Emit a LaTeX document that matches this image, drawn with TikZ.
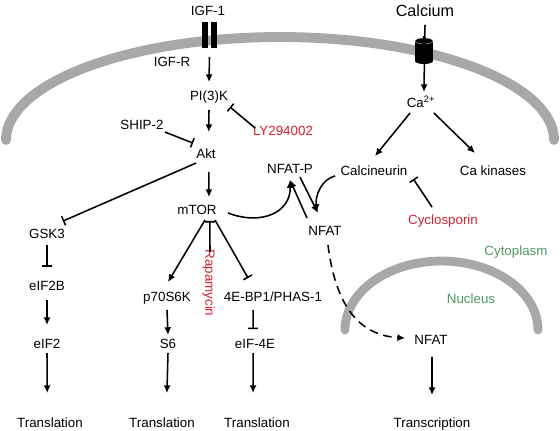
\documentclass[tikz,border=0pt]{standalone}
\usepackage{fontspec}
\setmainfont{Liberation Sans}
\usetikzlibrary{arrows.meta}
\definecolor{membranegray}{HTML}{A8A8A8}
\definecolor{drugred}{HTML}{D4212F}
\definecolor{regiongreen}{HTML}{4E9A62}
\begin{document}
\begin{tikzpicture}[x=0.025cm, y=-0.025cm,
		every node/.style={font=\fontsize{9.5}{11}\selectfont, inner sep=0pt, text height=7pt, text depth=2pt},
		act/.style={line width=1.1pt, -{Latex[length=5.5pt,width=5pt]}},
		inh/.style={line width=1.1pt, -{Bar[width=7pt]}},
		membrane/.style={draw=membranegray, line width=7pt, line cap=round},
		drug/.style={text=drugred},
		region/.style={text=regiongreen}]
		% Fix the size of the picture
		\useasboundingbox (0,0) rectangle (560,430);
		
		% Cell membrane and nuclear envelope
		\draw[membrane] plot[domain=180:360, samples=90] ({280+274*cos(\x)}, {140+103*sin(\x)});
		\draw[membrane, line width=6.3pt] plot[domain=180:360, samples=60] ({441.5+96.5*cos(\x)}, {330+69*sin(\x)});
		
		\begin{scope}
			% IGF receptor in the membrane
			\fill (202,22) rectangle (208,48);
			\fill (211,22) rectangle (217,48);
			\coordinate (rec) at (209.5,48);
		\end{scope}
		
		% Text of the IGF branch
		\node (igf) at (208,12) {IGF-1};
		\node (igfr) at (172,63) {IGF-R};
		\node (pik) at (209,97) {PI(3)K};
		\node[drug] (ly) at (283,132) {LY294002};
		\node (ship) at (142,126) {SHIP-2};
		\node (akt) at (206,155) {Akt};
		\node (mtor) at (197,211) {mTOR};
		\node (gsk) at (47,235) {GSK3};
		\node (eifb) at (47,287) {eIF2B};
		\node (eifa) at (47,345) {eIF2};
		\node (transa) at (50,424) {Translation};
		\node (ptor) at (167,298) {p70S6K};
		\node (ssix) at (168,345) {S6};
		\node (transb) at (162,424) {Translation};
		\node[drug, rotate=-90] (rapa) at (209,283) {Rapamycin};
		\node (fourebp) at (273,298) {4E-BP1/PHAS-1};
		\node (eiffour) at (255,345) {eIF-4E};
		\node (transc) at (257,424) {Translation};
		
		% Arrows of the IGF branch
		\draw[act] ([yshift=-6.4pt]rec) -- ([yshift=10.6pt]pik.center);
		\draw[act] ([yshift=-9.2pt]pik.center) -- ([xshift=2pt, yshift=16.3pt]akt.center);
		\draw[inh] ([xshift=-7pt, yshift=-5.7pt]akt.center) -- ([xshift=11.3pt, yshift=9.9pt]gsk.center);
		\draw[inh] ([xshift=16.3pt, yshift=-4.3pt]ship.center) -- ([xshift=-9.2pt, yshift=8.5pt]akt.center);
		\draw[inh] ([xshift=-19.8pt, yshift=2.8pt]ly.center) -- ([xshift=14.9pt, yshift=-7.1pt]pik.center);
		\draw[act] ([xshift=2pt, yshift=-12pt]akt.center) -- ([xshift=8.5pt, yshift=9.9pt]mtor.center);
		\draw[inh] ([yshift=-7.1pt]gsk.center) -- ([yshift=14.2pt]eifb.center);
		\draw[act] ([yshift=-9.2pt]eifb.center) -- ([yshift=14.2pt]eifa.center);
		\draw[act] ([yshift=-5.7pt]eifa.center) -- ([xshift=-2pt, yshift=22pt]transa.center);
		\draw[act] ([xshift=5.7pt, yshift=-6.4pt]mtor.center) -- ([xshift=0.7pt, yshift=11.3pt]ptor.center);
		\draw[act] ([yshift=-8.5pt]ptor.center) -- ([yshift=7.1pt]ssix.center);
		\draw[act] ([yshift=-5.7pt]ssix.center) -- ([xshift=3.5pt, yshift=22pt]transb.center);
		\draw[inh] ([xshift=0.7pt, yshift=22pt]rapa.center) -- ([xshift=9.2pt, yshift=-7.1pt]mtor.center);
		\draw[inh] ([xshift=12.8pt, yshift=-6.4pt]mtor.center) -- ([xshift=-17.7pt, yshift=14.2pt]fourebp.center);
		\draw[inh] ([xshift=-14.2pt, yshift=-8.5pt]fourebp.center) -- ([xshift=-1.4pt, yshift=11.3pt]eiffour.center);
		\draw[act] ([xshift=-1.4pt, yshift=-5.7pt]eiffour.center) -- ([xshift=-2.8pt, yshift=22pt]transc.center);
		
		% Text of the calcium branch
		\node[font=\fontsize{11.5}{13}\selectfont] (calcium) at (425,13) {Calcium};
		\node (ca) at (421,104) {Ca\textsuperscript{2+}};
		\node (calcineurin) at (374,172) {Calcineurin};
		\node (cakin) at (493,172) {Ca kinases};
		\node[drug] (cyclo) at (443,221) {Cyclosporin};
		\node (nfatp) at (290,170) {NFAT-P};
		\node (nfat) at (325,232) {NFAT};
		\node (nfatn) at (431,341) {NFAT};
		\node (transcr) at (432,424) {Transcription};
		\node[region] (cyto) at (516,252) {Cytoplasm};
		\node[region] (nucl) at (471,300) {Nucleus};
		
		% Arrows of the calcium branch
		\draw[act] ([yshift=-8.5pt]calcium.center) -- ([xshift=2.1pt, yshift=8.5pt]ca.center);
		\draw[act] ([xshift=-7.8pt, yshift=-6.4pt]ca.center) -- ([xshift=0.7pt, yshift=11.3pt]calcineurin.center);
		\draw[act] ([xshift=9.2pt, yshift=-6.4pt]ca.center) -- ([xshift=-12.8pt, yshift=13.5pt]cakin.center);
		\draw[inh] ([xshift=-7.8pt, yshift=9.9pt]cyclo.center) -- ([xshift=28pt, yshift=-5pt]calcineurin.center);
		\draw[act] ([xshift=22pt, yshift=-1.4pt]mtor.center) .. controls (262,226) and (291,212) .. ([yshift=-7.1pt]nfatp.center);
		\draw[act] ([xshift=-12.8pt, yshift=9.9pt]nfat.center) -- ([yshift=-7.1pt]nfatp.center);
		\draw[act] ([xshift=7.1pt, yshift=-5pt]nfatp.center) -- ([xshift=-5pt, yshift=13.5pt]nfat.center);
		\draw[act] ([xshift=-27.6pt, yshift=-2.8pt]calcineurin.center) .. controls (322,179) and (315,195) .. ([xshift=-5.7pt, yshift=14.2pt]nfat.center);
		\draw[act, dash pattern=on 6pt off 4pt] ([xshift=2.1pt, yshift=-9.2pt]nfat.center) .. controls (335,300) and (355,335) .. ([xshift=-18.4pt, yshift=2.1pt]nfatn.center);
		\draw[act] ([xshift=0.7pt, yshift=-11.3pt]nfatn.center) -- ([yshift=20.6pt]transcr.center);
		
		\begin{scope}
			% Calcium channel in the membrane
			\fill (415,41) rectangle (433,61);
			\fill (424,61) ellipse [x radius=9, y radius=3];
			\filldraw[draw=gray!60, line width=0.3pt] (424,41) ellipse [x radius=9, y radius=3];
			\draw[line width=1.1pt] (424,36) -- (424,45);
		\end{scope}
	\end{tikzpicture}
\end{document}
